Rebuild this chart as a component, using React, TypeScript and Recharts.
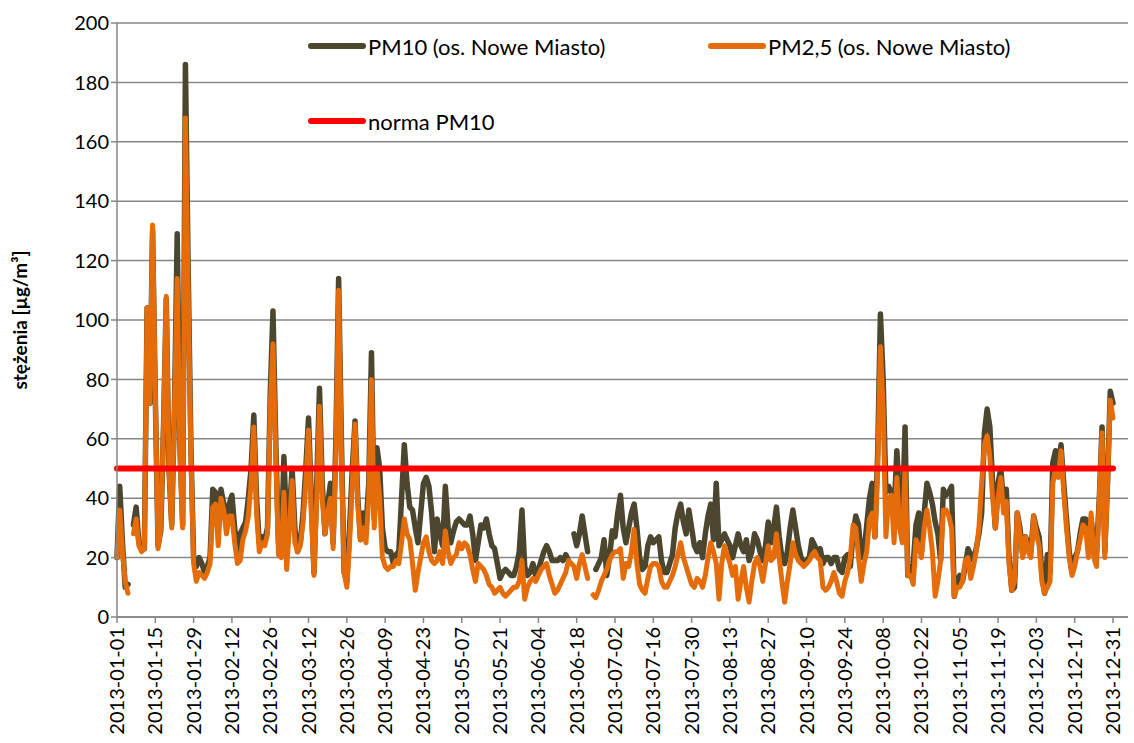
import React from "react";
import { CartesianGrid, Line, LineChart, XAxis, YAxis } from "recharts";

// dzienne stężenia 2013, po miesiącach (null = brak pomiaru)
const PM10_BY_MONTH: (number | null)[][] = [
  [20, 44, 25, 10, 11, null, 31, 37, 25, 23, 23, 104, 72, 130, 74, 24, 29, 64, 107, 50, 31, 70, 129, 58, 31, 186, 118, 58, 20, 17, 20],
  [18, 15, 17, 20, 43, 42, 30, 43, 38, 31, 38, 41, 30, 22, 28, 30, 32, 40, 50, 68, 40, 25, 27, 26, 30, 75, 103, 60],
  [25, 22, 54, 30, 35, 50, 30, 22, 25, 35, 50, 67, 40, 15, 45, 77, 45, 28, 38, 45, 25, 60, 114, 60, 15, 12, 30, 50, 66, 40, 26],
  [35, 30, 45, 89, 33, 57, 50, 30, 23, 22, 22, 18, 21, 22, 40, 58, 45, 37, 36, 30, 25, 35, 45, 47, 44, 35, 22, 33, 28, 24],
  [44, 30, 25, 29, 32, 33, 32, 31, 31, 34, 28, 19, 25, 31, 30, 33, 28, 24, 23, 18, 13, 15, 16, 15, 14, 14, 17, 22, 36, 17, 14],
  [15, 18, 14, 16, 19, 22, 24, 22, 19, 19, 19, 20, 19, 21, 19, null, 28, 24, 28, 34, 28, 22, null, null, 16, 18, 20, 26, 14, 20],
  [29, 27, 35, 41, 30, 25, 30, 35, 38, 30, 20, 16, 17, 24, 27, 25, 26, 27, 19, 15, 15, 18, 21, 30, 35, 38, 32, 28, 36, 30, 24],
  [22, 25, 20, 28, 34, 38, 26, 45, 24, 26, 28, 26, 24, 20, 24, 28, 24, 22, 26, 19, 22, 28, 26, 22, 19, 24, 32, 25, 30, 37, 27],
  [20, 18, 22, 30, 36, 30, 24, 20, 18, 19, 20, 26, 24, 22, 23, 18, 20, 20, 18, 20, 20, 16, 15, 20, 21, 17, 28, 34, 31, 20],
  [22, 31, 40, 45, 27, 55, 102, 80, 42, 44, 42, 35, 56, 40, 30, 64, 14, 14, 18, 31, 35, 22, 35, 45, 42, 38, 32, 28, 19, 43, 41],
  [42, 44, 7, 12, 14, 12, 17, 23, 21, 19, 23, 28, 35, 62, 70, 64, 45, 30, 45, 50, 38, 43, 20, 9, 10, 35, 30, 21, 27, 25],
  [22, 34, 30, 27, 15, 8, 21, 15, 52, 56, 50, 58, 45, 33, 22, 15, 20, 22, 28, 33, 33, 28, 33, 25, 22, 40, 64, 22, 45, 76, 72],
];

const PM25_BY_MONTH: (number | null)[][] = [
  [20, 36, 22, 12, 8, null, 28, 33, 24, 22, 23, 104, 72, 132, 75, 23, 30, 65, 108, 50, 30, 70, 114, 55, 30, 168, 110, 55, 18, 12, 15],
  [14, 13, 15, 18, 37, 38, 24, 40, 36, 28, 34, 34, 25, 18, 19, 26, 29, 34, 45, 64, 35, 22, 25, 24, 28, 70, 92, 55],
  [21, 20, 42, 16, 30, 46, 25, 22, 24, 32, 45, 63, 35, 14, 40, 71, 40, 28, 35, 40, 23, 55, 110, 55, 15, 10, 25, 45, 65, 38, 26],
  [30, 25, 40, 80, 30, 50, 40, 20, 17, 16, 17, 17, 19, 18, 25, 33, 28, 26, 18, 9, 15, 20, 25, 27, 22, 19, 18, 19, 22, 18],
  [29, 22, 18, 20, 21, 25, 23, 25, 24, 21, 16, 12, 18, 17, 16, 14, 11, 10, 8, 9, 10, 8, 7, 8, 9, 10, 10, 12, 19, 6, 10],
  [12, 13, 12, 14, 16, 17, 18, 14, 11, 8, 9, 11, 13, 15, 19, 18, 17, 13, 18, 21, 17, 13, null, 7.5, 6.5, 9, 12, 14, 16, 19],
  [21, 22, 22, 23, 13, 18, 17, 22, 29.5, 18, 11, 9, 8, 13, 17, 18, 18, 17, 12, 10, 10, 12, 14, 17, 21, 25, 20, 17, 14, 11, 10],
  [13, 12, 10, 14, 20, 25, 22, 18, 6, 18, 24, 21, 18, 14, 17, 6, 12, 17, 10, 5, 12, 18, 20, 17, 12, 18, 24, 19, 20, 28, 20],
  [12, 5, 12, 18, 25, 21, 19, 18, 17, 18, 19, 21, 22, 20, 19, 10, 9, 10, 12, 15, 12, 8, 7, 12, 15, 20, 31, 30, 20, 12],
  [18, 22, 33, 35, 27, 50, 91, 70, 27, 40, 41, 25, 47, 30, 25, 50, 14, 14, 11, 26, 24, 20, 30, 36, 30, 22, 7, 12, 19, 36, 36],
  [34, 30, 7, 10, 10, 12, 19, 20, 13, 17, 22, 30, 45, 58, 61, 54, 40, 30, 40, 47, 35, 39, 18, 9, 12, 35, 28, 20, 27, 22],
  [20, 34, 28, 24, 12, 8, 10, 12, 45, 50, 47, 56, 42, 30, 20, 14, 17, 22, 26, 31, 30, 20, 35, 20, 17, 40, 62, 20, 45, 73, 67],
];

const NORMA_PM10 = 50;

const X_TICK_LABELS = [
  "2013-01-01", "2013-01-15", "2013-01-29", "2013-02-12", "2013-02-26", "2013-03-12", "2013-03-26",
  "2013-04-09", "2013-04-23", "2013-05-07", "2013-05-21", "2013-06-04", "2013-06-18", "2013-07-02",
  "2013-07-16", "2013-07-30", "2013-08-13", "2013-08-27", "2013-09-10", "2013-09-24", "2013-10-08",
  "2013-10-22", "2013-11-05", "2013-11-19", "2013-12-03", "2013-12-17", "2013-12-31",
];

const Y_TICKS = [0, 20, 40, 60, 80, 100, 120, 140, 160, 180, 200];

const SERIES = [
  { key: "pm10", name: "PM10 (os. Nowe Miasto)", color: "#4b462d", width: 5.5 },
  { key: "pm25", name: "PM2,5 (os. Nowe Miasto)", color: "#e46c0a", width: 5 },
  { key: "norma", name: "norma PM10", color: "#ff0000", width: 6 },
];

const FONT = "Lato, 'Open Sans', sans-serif";

const dayOfYear = (label: string) =>
  Math.round((Date.parse(label) - Date.parse("2013-01-01")) / 86400000);

const pm10 = PM10_BY_MONTH.flat();
const pm25 = PM25_BY_MONTH.flat();
const data = pm10.map((v, i) => ({ day: i, pm10: v, pm25: pm25[i], norma: NORMA_PM10 }));

const xTicks = X_TICK_LABELS.map(dayOfYear);
const labelByDay: Record<number, string> = {};
X_TICK_LABELS.forEach((l) => (labelByDay[dayOfYear(l)] = l));

function XTick({ x, y, payload }: any) {
  return (
    <text
      x={x}
      y={y}
      transform={`rotate(-90 ${x} ${y})`}
      textAnchor="end"
      dx={-2}
      dy="0.35em"
      fontSize={20}
      fontFamily={FONT}
      fill="#000"
    >
      {labelByDay[payload.value]}
    </text>
  );
}

function YLabel({ viewBox }: any) {
  const x = viewBox.x - 37;
  const y = viewBox.y + viewBox.height / 2;
  return (
    <text
      x={x}
      y={y}
      transform={`rotate(-90 ${x} ${y})`}
      textAnchor="middle"
      dy="0.35em"
      fontSize={19}
      fontWeight="bold"
      fontFamily={FONT}
      fill="#000"
    >
      stężenia [µg/m³]
    </text>
  );
}

const LEGEND_POS = [
  { left: 308, top: 46 },
  { left: 708, top: 46 },
  { left: 308, top: 121 },
];

function ChartLegend() {
  return (
    <>
      {SERIES.map((s, i) => (
        <div
          key={s.key}
          style={{
            position: "absolute",
            left: LEGEND_POS[i].left,
            top: LEGEND_POS[i].top - 14,
            height: 28,
            display: "flex",
            alignItems: "center",
            fontFamily: FONT,
            fontSize: 22,
            color: "#000",
            whiteSpace: "nowrap",
          }}
        >
          <span
            style={{
              display: "inline-block",
              width: 58,
              height: 6,
              borderRadius: 3,
              background: s.color,
              marginRight: 2,
            }}
          />
          {s.name}
        </div>
      ))}
    </>
  );
}

export default function App() {
  return (
    <div style={{ position: "absolute", left: 0, top: 0, width: 1134, height: 743, background: "#fff" }}>
      <LineChart width={1134} height={743} data={data} margin={{ top: 23, right: 6, bottom: 6, left: 57 }}>
        <CartesianGrid vertical={false} stroke="#868686" strokeWidth={1.5} />
        <XAxis
          dataKey="day"
          type="number"
          domain={[0, 364]}
          ticks={xTicks}
          interval={0}
          padding={{ left: 0, right: 15 }}
          height={120}
          tickSize={6}
          tick={<XTick />}
          tickLine={{ stroke: "#868686", strokeWidth: 1.5 }}
          axisLine={{ stroke: "#868686", strokeWidth: 1.5 }}
        />
        <YAxis
          domain={[0, 200]}
          ticks={Y_TICKS}
          interval={0}
          width={60}
          tickSize={6}
          tick={{ fill: "#000", fontSize: 20, fontFamily: FONT }}
          tickLine={{ stroke: "#868686", strokeWidth: 1.5 }}
          axisLine={{ stroke: "#868686", strokeWidth: 1.5 }}
          label={<YLabel />}
        />
        {SERIES.map((s) => (
          <Line
            key={s.key}
            type="linear"
            dataKey={s.key}
            name={s.name}
            stroke={s.color}
            strokeWidth={s.width}
            strokeLinejoin="round"
            strokeLinecap="round"
            dot={false}
            activeDot={false}
            isAnimationActive={false}
          />
        ))}
      </LineChart>
      <ChartLegend />
    </div>
  );
}
